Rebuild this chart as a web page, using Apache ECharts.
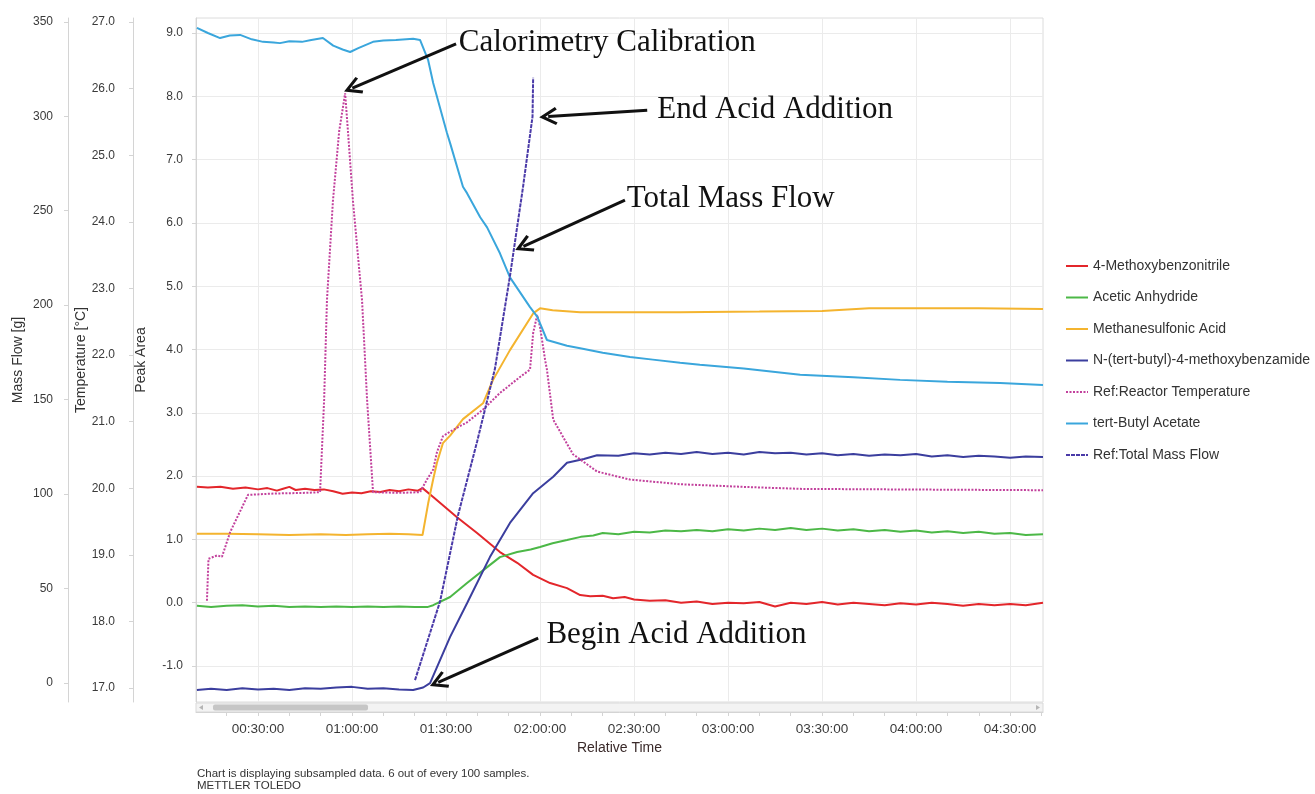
<!DOCTYPE html>
<html>
<head>
<meta charset="utf-8">
<title>Reaction profile</title>
<script src="https://cdn.jsdelivr.net/npm/echarts@6/dist/echarts.min.js"></script>
<style>
	html, body { margin: 0; padding: 0; background: #fff; }
	#grafico { width: 1315px; height: 794px; }
</style>
</head>
<body>
<div id="grafico"></div>
<script>
// all series are [relative time in minutes, value]
const methoxybenzonitrile = [
	[10.5, 1.83], [14, 1.82], [18, 1.83], [22, 1.80], [26, 1.82], [30, 1.79], [33, 1.81], [36, 1.77],
	[38, 1.80], [40, 1.83], [42, 1.78], [45, 1.80], [48, 1.78], [51, 1.79], [54, 1.76], [57, 1.72],
	[60, 1.74], [63, 1.73], [66, 1.76], [69, 1.75], [72, 1.78], [75, 1.76], [78, 1.79], [81, 1.77],
	[82.5, 1.81], [85.9, 1.67], [93.5, 1.35], [99.9, 1.10], [107.2, 0.80], [112.7, 0.63], [117.8, 0.44],
	[123.2, 0.31], [128.6, 0.23], [132.8, 0.12], [136, 0.10], [140, 0.11], [143.3, 0.07], [147, 0.09],
	[150, 0.05], [155, 0.03], [160, 0.04], [165, 0.00], [170, 0.02], [175, -0.02], [180, 0.00], [185, -0.01],
	[190, 0.01], [195, -0.06], [200, 0.00], [205, -0.02], [210, 0.01], [215, -0.03], [220, 0.00], [225, -0.02],
	[230, -0.04], [235, -0.01], [240, -0.03], [245, 0.00], [250, -0.02], [255, -0.05], [260, -0.02],
	[265, -0.04], [270, -0.02], [275, -0.04], [280.5, 0.00]
]
const aceticAnhydride = [
	[10.5, -0.05], [15, -0.07], [20, -0.05], [25, -0.04], [30, -0.06], [35, -0.05], [40, -0.07], [45, -0.06],
	[50, -0.07], [55, -0.06], [60, -0.07], [65, -0.06], [70, -0.07], [75, -0.06], [80, -0.07], [84, -0.07],
	[85.9, -0.04], [91.3, 0.09], [96.7, 0.31], [101.8, 0.51], [107.2, 0.72], [112.7, 0.80], [117, 0.84],
	[120, 0.88], [124, 0.94], [128.6, 0.99], [133, 1.04], [137, 1.06], [140, 1.10], [145, 1.08], [150, 1.12],
	[155, 1.11], [160, 1.14], [165, 1.13], [170, 1.15], [175, 1.13], [180, 1.16], [185, 1.14], [190, 1.17],
	[195, 1.15], [200, 1.18], [205, 1.15], [210, 1.17], [215, 1.14], [220, 1.16], [225, 1.13], [230, 1.15],
	[235, 1.12], [240, 1.14], [245, 1.11], [250, 1.13], [255, 1.10], [260, 1.12], [265, 1.09], [270, 1.10],
	[275, 1.07], [280.5, 1.08]
]
const methanesulfonicAcid = [
	[10.5, 1.09], [20, 1.09], [30, 1.08], [40, 1.07], [50, 1.08], [58, 1.07], [65, 1.08], [72, 1.09],
	[78, 1.08], [82.5, 1.07], [84.3, 1.57], [85.9, 1.95], [87.1, 2.21], [89, 2.52], [91.3, 2.64],
	[95.4, 2.90], [101.8, 3.15], [105, 3.52], [110.4, 3.99], [117.8, 4.57], [120, 4.65], [124, 4.62],
	[132.8, 4.59], [150, 4.59], [164.7, 4.59], [190, 4.60], [210, 4.61], [225, 4.65], [240, 4.65],
	[260, 4.65], [280.5, 4.64]
]
const butylBenzamide = [
	[10.5, -1.38], [15, -1.36], [20, -1.38], [25, -1.35], [30, -1.37], [35, -1.36], [40, -1.38], [45, -1.35],
	[50, -1.36], [55, -1.34], [60, -1.33], [65, -1.36], [70, -1.35], [75, -1.37], [79.5, -1.38], [82.7, -1.34],
	[84.9, -1.27], [91.3, -0.54], [96.7, -0.01], [104, 0.72], [110.4, 1.26], [117.8, 1.73], [124.2, 1.99],
	[128.6, 2.21], [134, 2.27], [138.2, 2.33], [145, 2.32], [150, 2.36], [155, 2.34], [160, 2.37], [165, 2.35],
	[170, 2.38], [175, 2.35], [180, 2.37], [185, 2.34], [190, 2.38], [195, 2.36], [200, 2.37], [205, 2.34],
	[210, 2.36], [215, 2.33], [220, 2.35], [225, 2.32], [230, 2.34], [235, 2.33], [240, 2.35], [245, 2.31],
	[250, 2.33], [255, 2.30], [260, 2.32], [265, 2.31], [270, 2.29], [275, 2.31], [280.5, 2.30]
]
// reactor temperature in °C
const reactorTemperature = [
	[13.7, 18.31], [14.2, 18.94], [16.9, 18.99], [18.5, 18.97], [21.1, 19.34], [26.8, 19.90], [35, 19.92],
	[45, 19.93], [49.8, 19.94], [51.1, 21.33], [52, 22.82], [53.9, 24.31], [55.9, 25.36], [57.8, 25.93],
	[58.7, 25.36], [60.3, 24.31], [63.2, 22.82], [64.8, 21.33], [66.7, 19.94], [75, 19.93], [81.7, 19.94],
	[83.9, 20.13], [85.9, 20.28], [87.1, 20.54], [89, 20.78], [91.3, 20.85], [96.7, 20.99], [101.8, 21.18],
	[107.2, 21.43], [113.6, 21.67], [116.8, 21.78], [117.8, 22.33], [119.1, 22.60], [120, 22.42],
	[121.6, 21.93], [122.2, 21.78], [124.2, 21.03], [130.5, 20.51], [138.2, 20.25], [148.7, 20.13],
	[164.7, 20.06], [185, 20.02], [203, 19.99], [240, 19.98], [280.5, 19.97]
]
const butylAcetate = [
	[10.5, 9.08], [14, 9.00], [17.9, 8.92], [21, 8.96], [24.3, 8.97], [28, 8.90], [31.6, 8.86], [35, 8.85],
	[37, 8.84], [40, 8.87], [44, 8.86], [47, 8.89], [50.7, 8.92], [54, 8.80], [57, 8.74], [59.4, 8.70],
	[62, 8.76], [66.7, 8.86], [70, 8.88], [74, 8.89], [79.5, 8.91], [81.7, 8.89], [84.3, 8.57], [85.9, 8.21],
	[90.3, 7.42], [91.3, 7.26], [95.4, 6.57], [96.7, 6.47], [100.9, 6.09], [103.1, 5.93], [107.2, 5.52],
	[110.4, 5.14], [116.8, 4.67], [119.1, 4.52], [122.2, 4.15], [128.6, 4.06], [132.8, 4.02], [140, 3.95],
	[148.7, 3.88], [156, 3.84], [164.7, 3.79], [171, 3.76], [185, 3.70], [203, 3.60], [220, 3.56],
	[234.9, 3.52], [250, 3.49], [266.8, 3.47], [280.5, 3.44]
]
// total mass flow in g
const totalMassFlow = [
	[80.1, 1.5], [88.1, 43.2], [93.8, 88.6], [99.9, 127.7], [105.6, 166.3], [110.4, 215.4],
	[114.6, 262.9], [117.6, 299.8], [117.8, 320.4]
]

const seriesNames = [
	'4-Methoxybenzonitrile', 'Acetic Anhydride', 'Methanesulfonic Acid',
	'N-(tert-butyl)-4-methoxybenzamide', 'Ref:Reactor Temperature', 'tert-Butyl Acetate', 'Ref:Total Mass Flow'
]

const timeTicks = [30, 60, 90, 120, 150, 180, 210, 240, 270]
const timeMinorTicks = [20, 30, 40, 50, 60, 70, 80, 90, 100, 110, 120, 130, 140, 150, 160, 170, 180, 190, 200, 210, 220, 230, 240, 250, 260, 270, 280]
const peakTicks = [-1, 0, 1, 2, 3, 4, 5, 6, 7, 8, 9]
const tempTicks = [17, 18, 19, 20, 21, 22, 23, 24, 25, 26, 27]
const massTicks = [0, 50, 100, 150, 200, 250, 300, 350]

// annotation arrows (peak area coords): text, from, to
const notes = [
	['Calorimetry Calibration', [93.2, 8.83], [60.1, 8.13]],
	['End Acid Addition', [154.2, 7.78], [122.6, 7.68]],
	['Total Mass Flow', [147.1, 6.36], [114.7, 5.63]],
	['Begin Acid Addition', [119.4, -0.56], [87.5, -1.26]]
]
const noteGaps = [3, 10, 2, 9]

const chart = echarts.init(document.getElementById('grafico'))

function fmtTempo(min) {
	const h = Math.floor(min / 60)
	const m = Math.round(min % 60)
	return String(h).padStart(2, '0') + ':' + String(m).padStart(2, '0') + ':00'
}

const cinza = '#d4d4d4'
const rotulo = { color: '#3a3a3a', fontSize: 12, fontFamily: 'Liberation Sans' }
const nomeEixo = { color: '#333', fontSize: 14, fontFamily: 'Liberation Sans' }

function eixoY(nome, min, max, ticks, offset, margin, casas, grade, gap) {
	return {
		type: 'value', position: 'left', offset: offset, min: min, max: max,
		name: nome, nameLocation: 'middle', nameGap: gap, nameTextStyle: nomeEixo,
		nameMoveOverlap: false,
		axisLine: { show: true, onZero: false, lineStyle: { color: cinza } },
		axisTick: { show: true, length: 4, customValues: ticks, lineStyle: { color: cinza } },
		axisLabel: {
			customValues: ticks, margin: margin, ...rotulo,
			formatter: (v) => v.toFixed(casas)
		},
		splitLine: { show: grade, lineStyle: { color: '#ebebeb' } }
	}
}

function linha(nome, dados, cor, eixo, tipo) {
	return {
		name: nome, type: 'line', data: dados, xAxisIndex: 0, yAxisIndex: eixo,
		symbol: 'none', showSymbol: false, smooth: false,
		lineStyle: { color: cor, width: 2, type: tipo || 'solid' },
		itemStyle: { color: cor },
		emphasis: { disabled: true }
	}
}

// open arrow head, tip on top
const seta = 'path://M5,0 L10,8.5 L8.6,9.4 L5,3.3 L1.4,9.4 L0,8.5 Z'

chart.setOption({
	animation: false,
	textStyle: { fontFamily: 'Liberation Sans' },
	grid: { left: 196, right: 272, top: 18, bottom: 92, show: true, borderColor: '#dcdcdc', borderWidth: 1 },
	legend: {
		orient: 'vertical', left: 1060, top: 254, itemWidth: 22, itemHeight: 14, itemGap: 17.5,
		data: seriesNames, selectedMode: false,
		itemStyle: { opacity: 0 },
		textStyle: { color: '#333', fontSize: 14 }
	},
	xAxis: [
		{
			type: 'value', min: 10.21, max: 280.5, offset: 10, position: 'bottom',
			name: 'Relative Time', nameLocation: 'middle', nameGap: 29, nameMoveOverlap: false,
			nameTextStyle: { color: '#3a2a2a', fontSize: 14 },
			axisLine: { show: true, onZero: false, lineStyle: { color: cinza } },
			axisTick: { show: false, customValues: timeTicks },
			axisLabel: { customValues: timeTicks, margin: 10, ...rotulo, fontSize: 13.5, formatter: fmtTempo },
			splitLine: { show: true, lineStyle: { color: '#ebebeb' } }
		},
		{
			type: 'value', min: 10.21, max: 280.5, offset: 10, position: 'bottom',
			axisLine: { show: false, onZero: false },
			axisTick: { show: true, length: 4, customValues: timeMinorTicks, lineStyle: { color: cinza } },
			axisLabel: { show: false },
			splitLine: { show: false }
		}
	],
	yAxis: [
		eixoY('Peak Area', -1.569, 9.237, peakTicks, 0, 13, 1, true, 48),
		eixoY('Temperature [°C]', 16.79, 27.06, tempTicks, 63, 18, 1, false, 45),
		eixoY('Mass Flow [g]', -10.06, 352, massTicks, 128, 15, 0, false, 43)
	],
	graphic: [
		// scroll bar under the plot
		{ type: 'rect', shape: { x: 196, y: 703, width: 847, height: 9 }, style: { fill: '#f3f3f3', stroke: '#d9d9d9' } },
		{ type: 'rect', shape: { x: 213, y: 704.5, width: 155, height: 6, r: 2 }, style: { fill: '#c6c6c6' } },
		{ type: 'polygon', shape: { points: [[199, 707.5], [203, 705], [203, 710]] }, style: { fill: '#b5b5b5' } },
		{ type: 'polygon', shape: { points: [[1040, 707.5], [1036, 705], [1036, 710]] }, style: { fill: '#b5b5b5' } },
		{
			type: 'text', left: 197, top: 768,
			style: {
				text: 'Chart is displaying subsampled data. 6 out of every 100 samples.\nMETTLER TOLEDO',
				fill: '#333', font: '11.5px "Liberation Sans"', lineHeight: 12
			}
		}
	],
	series: [
		linha(seriesNames[0], methoxybenzonitrile, '#e3262b', 0),
		linha(seriesNames[1], aceticAnhydride, '#4cb847', 0),
		linha(seriesNames[2], methanesulfonicAcid, '#f4b42f', 0),
		linha(seriesNames[3], butylBenzamide, '#3b3e9e', 0),
		linha(seriesNames[4], reactorTemperature, '#c2409c', 1, [2, 1.5]),
		linha(seriesNames[5], butylAcetate, '#3aa6dc', 0),
		linha(seriesNames[6], totalMassFlow, '#4a3aa8', 2, [4, 1]),
		{
			// arrows with their texts
			type: 'line', data: [], xAxisIndex: 0, yAxisIndex: 0, silent: true,
			markLine: {
				silent: true, animation: false,
				symbol: ['none', seta], symbolSize: [18, 18],
				lineStyle: { color: '#111', width: 3, type: 'solid' },
				emphasis: { disabled: true },
				label: {
					show: true, position: 'start', formatter: '{b}',
					fontFamily: 'Liberation Serif', fontSize: 31, color: '#111'
				},
				data: notes.map((n, i) => [
					{ name: n[0], coord: n[1], label: { distance: noteGaps[i] } },
					{ coord: n[2] }
				])
			}
		}
	]
})
</script>
</body>
</html>
